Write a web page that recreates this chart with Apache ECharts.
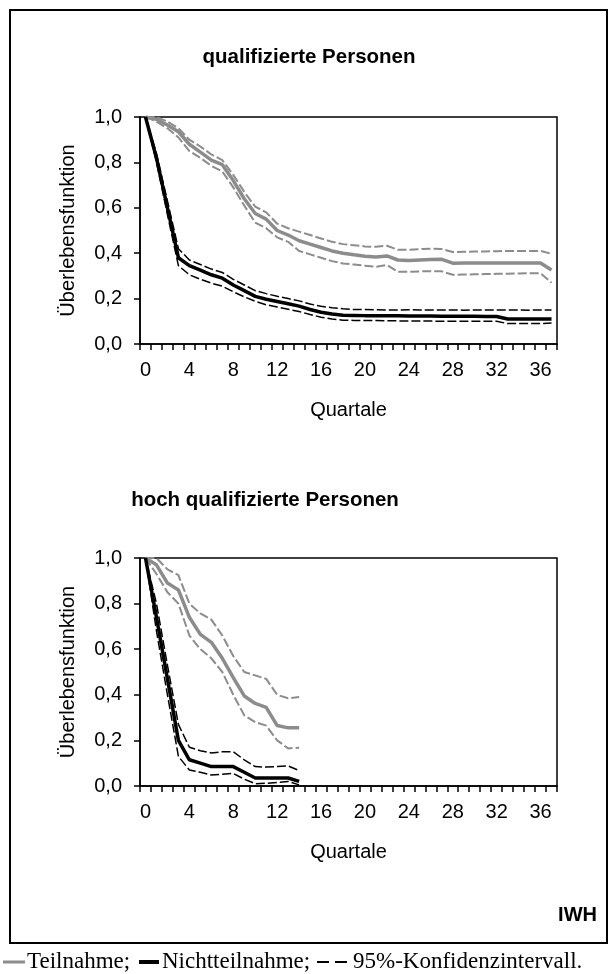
<!DOCTYPE html>
<html>
<head>
<meta charset="utf-8">
<script src="https://cdn.jsdelivr.net/npm/echarts@6/dist/echarts.min.js"></script>
<style>
  html, body { margin: 0; padding: 0; background: #fff; }
  #chart { width: 610px; height: 974px; }
</style>
</head>
<body>
<div id="chart"></div>
<script>
// Quartale 0..37 (Kategorien)
const quartale = ['0','1','2','3','4','5','6','7','8','9','10','11','12','13','14','15','16','17','18','19',
  '20','21','22','23','24','25','26','27','28','29','30','31','32','33','34','35','36','37']

// qualifizierte Personen
const teilQ = [1.0, 0.99, 0.965, 0.935, 0.88, 0.845, 0.81, 0.79, 0.72, 0.64, 0.575, 0.55, 0.5, 0.48, 0.455, 0.44, 0.425, 0.41, 0.40, 0.393,
  0.387, 0.383, 0.388, 0.37, 0.368, 0.37, 0.372, 0.373, 0.356, 0.357, 0.357, 0.357, 0.357, 0.357, 0.357, 0.357, 0.357, 0.326]
const teilQo = [1.0, 1.0, 0.98, 0.95, 0.9, 0.87, 0.835, 0.81, 0.745, 0.67, 0.605, 0.58, 0.53, 0.51, 0.495, 0.48, 0.465, 0.45, 0.44, 0.435,
  0.43, 0.428, 0.433, 0.415, 0.415, 0.418, 0.42, 0.418, 0.405, 0.406, 0.407, 0.408, 0.409, 0.41, 0.41, 0.41, 0.41, 0.397]
const teilQu = [1.0, 0.98, 0.95, 0.91, 0.85, 0.82, 0.785, 0.76, 0.69, 0.61, 0.535, 0.51, 0.47, 0.45, 0.41, 0.395, 0.38, 0.365, 0.355, 0.35,
  0.345, 0.34, 0.348, 0.318, 0.318, 0.32, 0.32, 0.32, 0.305, 0.306, 0.307, 0.308, 0.309, 0.31, 0.311, 0.312, 0.312, 0.27]
const nichtQ = [1.0, 0.82, 0.6, 0.38, 0.345, 0.325, 0.305, 0.29, 0.26, 0.235, 0.21, 0.197, 0.187, 0.177, 0.167, 0.152, 0.14, 0.132, 0.127, 0.126,
  0.125, 0.125, 0.124, 0.124, 0.123, 0.123, 0.123, 0.122, 0.122, 0.122, 0.122, 0.121, 0.121, 0.11, 0.11, 0.11, 0.11, 0.11]
const nichtQo = [1.0, 0.84, 0.63, 0.42, 0.37, 0.35, 0.33, 0.315, 0.285, 0.26, 0.235, 0.222, 0.21, 0.2, 0.19, 0.176, 0.166, 0.16, 0.155, 0.152,
  0.152, 0.151, 0.15, 0.15, 0.151, 0.15, 0.15, 0.15, 0.15, 0.149, 0.15, 0.15, 0.15, 0.15, 0.15, 0.149, 0.15, 0.15]
const nichtQu = [1.0, 0.8, 0.57, 0.345, 0.305, 0.285, 0.268, 0.255, 0.23, 0.208, 0.188, 0.173, 0.163, 0.153, 0.143, 0.13, 0.118, 0.11, 0.105, 0.104,
  0.103, 0.103, 0.102, 0.102, 0.101, 0.101, 0.101, 0.1, 0.1, 0.1, 0.1, 0.1, 0.1, 0.09, 0.09, 0.09, 0.09, 0.092]

// hoch qualifizierte Personen
const teilH = [1.0, 0.97, 0.89, 0.86, 0.74, 0.665, 0.63, 0.56, 0.475, 0.395, 0.362, 0.345, 0.265, 0.255, 0.255]
const teilHo = [1.0, 1.0, 0.95, 0.925, 0.8, 0.757, 0.73, 0.66, 0.57, 0.5, 0.485, 0.47, 0.4, 0.385, 0.39]
const teilHu = [1.0, 0.93, 0.85, 0.8, 0.66, 0.6, 0.56, 0.5, 0.4, 0.31, 0.28, 0.265, 0.2, 0.165, 0.168]
const nichtH = [1.0, 0.74, 0.47, 0.2, 0.115, 0.1, 0.085, 0.085, 0.085, 0.06, 0.035, 0.035, 0.035, 0.035, 0.02]
const nichtHo = [1.0, 0.8, 0.53, 0.27, 0.17, 0.155, 0.145, 0.15, 0.15, 0.115, 0.085, 0.083, 0.085, 0.088, 0.068]
const nichtHu = [1.0, 0.68, 0.4, 0.13, 0.07, 0.06, 0.048, 0.052, 0.055, 0.03, 0.01, 0.012, 0.015, 0.02, 0.005]

const GRAY = '#8c8c8c'
const FONT = 'Liberation Sans, Arial, sans-serif'
const SERIF = 'Liberation Serif, Times New Roman, serif'

function xAxis(idx) {
  return {
    type: 'category',
    gridIndex: idx,
    data: quartale,
    boundaryGap: true,
    name: 'Quartale',
    nameLocation: 'middle',
    nameGap: 56,
    nameTextStyle: { color: '#000', fontSize: 20, fontFamily: FONT },
    axisLine: { lineStyle: { color: '#000', width: 1.5 } },
    axisTick: { show: true, interval: 0, length: 6, lineStyle: { color: '#000', width: 1.5 } },
    axisLabel: { interval: 3, margin: 16, color: '#000', fontSize: 20, fontFamily: FONT },
    splitLine: { show: false }
  }
}

function yAxis(idx) {
  return {
    type: 'value',
    gridIndex: idx,
    min: 0,
    max: 1,
    interval: 0.2,
    name: 'Überlebensfunktion',
    nameLocation: 'middle',
    nameGap: 62,
    nameRotate: 90,
    nameTextStyle: { color: '#000', fontSize: 20, fontFamily: FONT },
    axisLine: { show: true, lineStyle: { color: '#000', width: 1.5 } },
    axisTick: { show: true, length: 6, lineStyle: { color: '#000', width: 1.5 } },
    axisLabel: {
      margin: 18, color: '#000', fontSize: 20, fontFamily: FONT,
      formatter: v => v.toFixed(1).replace('.', ',')
    },
    splitLine: { show: false }
  }
}

function line(idx, data, color, width, dashed) {
  return {
    type: 'line',
    xAxisIndex: idx,
    yAxisIndex: idx,
    data: data,
    symbol: 'none',
    silent: true,
    lineStyle: { color: color, width: width, type: dashed ? [9, 3] : 'solid' }
  }
}

const chart = echarts.init(document.getElementById('chart'), null, { renderer: 'canvas' })

const option = {
  animation: false,
  backgroundColor: '#fff',
  grid: [
    { left: 140, top: 117, width: 417, height: 227, show: true, borderColor: '#000', borderWidth: 1.5 },
    { left: 140, top: 558, width: 417, height: 228, show: true, borderColor: '#000', borderWidth: 1.5 }
  ],
  xAxis: [xAxis(0), xAxis(1)],
  yAxis: [yAxis(0), yAxis(1)],
  series: [
    line(0, teilQo, GRAY, 2, true),
    line(0, teilQu, GRAY, 2, true),
    line(0, teilQ, GRAY, 3.5, false),
    line(0, nichtQo, '#000', 1.5, true),
    line(0, nichtQu, '#000', 1.5, true),
    line(0, nichtQ, '#000', 3.5, false),
    line(1, teilHo, GRAY, 2, true),
    line(1, teilHu, GRAY, 2, true),
    line(1, teilH, GRAY, 3.5, false),
    line(1, nichtHo, '#000', 1.5, true),
    line(1, nichtHu, '#000', 1.5, true),
    line(1, nichtH, '#000', 3.5, false)
  ],
  graphic: [
    { type: 'rect', shape: { x: 10, y: 10, width: 597, height: 933 }, style: { fill: 'none', stroke: '#000', lineWidth: 2 } },
    { type: 'text', style: { text: 'qualifizierte Personen', x: 309, y: 57, textAlign: 'center', textVerticalAlign: 'middle', font: 'bold 20.5px ' + FONT, fill: '#000' } },
    { type: 'text', style: { text: 'hoch qualifizierte Personen', x: 265, y: 500, textAlign: 'center', textVerticalAlign: 'middle', font: 'bold 20.5px ' + FONT, fill: '#000' } },
    { type: 'text', style: { text: 'IWH', x: 597, y: 915, textAlign: 'right', textVerticalAlign: 'middle', font: 'bold 20px ' + FONT, fill: '#000' } },
    // Legende unter dem Rahmen
    { type: 'line', shape: { x1: 3, y1: 962, x2: 25, y2: 962 }, style: { stroke: GRAY, lineWidth: 3 } },
    { type: 'text', style: { text: 'Teilnahme;', x: 27, y: 962, textVerticalAlign: 'middle', font: '23px ' + SERIF, fill: '#000' } },
    { type: 'line', shape: { x1: 139, y1: 962, x2: 159, y2: 962 }, style: { stroke: '#000', lineWidth: 4 } },
    { type: 'text', style: { text: 'Nichtteilnahme;', x: 162, y: 962, textVerticalAlign: 'middle', font: '23px ' + SERIF, fill: '#000' } },
    { type: 'line', shape: { x1: 317, y1: 962, x2: 329, y2: 962 }, style: { stroke: '#000', lineWidth: 2 } },
    { type: 'line', shape: { x1: 335, y1: 962, x2: 347, y2: 962 }, style: { stroke: '#000', lineWidth: 2 } },
    { type: 'text', style: { text: '95%-Konfidenzintervall.', x: 353, y: 962, textVerticalAlign: 'middle', font: '23px ' + SERIF, fill: '#000' } }
  ]
}

chart.setOption(option)
</script>
</body>
</html>
